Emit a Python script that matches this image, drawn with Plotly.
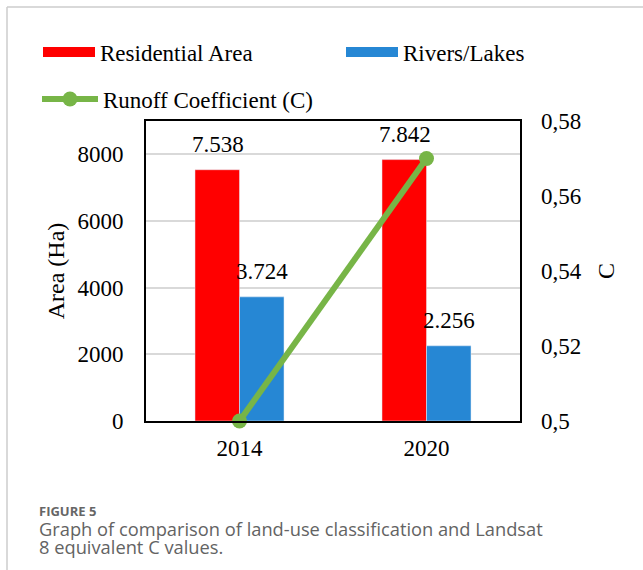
import plotly.graph_objects as go

# ---- data ----
years = ["2014", "2020"]
residential = [7538, 7842]
rivers = [3724, 2256]
runoff_c = [0.50, 0.57]
left_ticks = [0, 2000, 4000, 6000, 8000]
right_ticks = [0.50, 0.52, 0.54, 0.56, 0.58]
right_tick_text = ["0,5", "0,52", "0,54", "0,56", "0,58"]

# ---- layout geometry ----
W, H = 643, 570
ML, MR, MT, MB = 146, 123, 121, 149
PW, PH = W - ML - MR, H - MT - MB


def px2x(px):
    return (px - ML) / PW


def py2y(py):
    return 1 - (py - MT) / PH


SERIF = "Liberation Serif"
RED = "#ff0000"
BLUE = "#2687d4"
GREEN = "#77b547"

fig = go.Figure()

fig.add_trace(go.Bar(x=years, y=residential, marker_color=RED, name="Residential Area",
                     showlegend=False, yaxis="y"))
fig.add_trace(go.Bar(x=years, y=rivers, marker_color=BLUE, name="Rivers/Lakes",
                     showlegend=False, yaxis="y"))
# legend proxies (wide rectangles), no visible data
fig.add_trace(go.Scatter(x=[years[0]], y=[None], mode="lines", line=dict(color=RED, width=11),
                         name="Residential Area", legend="legend", hoverinfo="skip"))
fig.add_trace(go.Scatter(x=[years[0]], y=[None], mode="lines", line=dict(color=BLUE, width=11),
                         name="Rivers/Lakes", legend="legend3", hoverinfo="skip"))
fig.add_trace(go.Scatter(x=years, y=runoff_c, mode="lines+markers", yaxis="y2",
                         line=dict(color=GREEN, width=6), marker=dict(color=GREEN, size=15),
                         name="Runoff Coefficient (C)", legend="legend2", cliponaxis=False))

annotations = []
for i in range(len(years)):
    for val, shift in ((residential[i], -22), (rivers[i], 22)):
        annotations.append(dict(x=i, y=val, xref="x", yref="y", xshift=shift, yshift=25,
                                text=f"{val:,}".replace(",", "."), showarrow=False,
                                yanchor="middle", font=dict(family=SERIF, size=23, color="black")))

annotations.append(dict(x=px2x(38), y=py2y(511), xref="paper", yref="paper", xanchor="left",
                        yanchor="middle", showarrow=False, text="<b>FIGURE 5</b>", borderpad=0,
                        font=dict(family="Open Sans", size=13, color="#666666")))
annotations.append(dict(x=px2x(38), y=py2y(528), xref="paper", yref="paper", xanchor="left",
                        yanchor="middle", showarrow=False, borderpad=0,
                        text="Graph of comparison of land-use classification and Landsat",
                        font=dict(family="Open Sans", size=18.3, color="#636363")))
annotations.append(dict(x=px2x(38), y=py2y(546), xref="paper", yref="paper", xanchor="left",
                        yanchor="middle", showarrow=False, text="8 equivalent C values.",
                        borderpad=0, font=dict(family="Open Sans", size=18.3, color="#636363")))

shapes = [
    dict(type="line", xref="paper", yref="paper", x0=px2x(7), x1=px2x(643), y0=py2y(7), y1=py2y(7),
         line=dict(color="#cccccc", width=1.5)),
    dict(type="line", xref="paper", yref="paper", x0=px2x(7), x1=px2x(7), y0=py2y(7), y1=py2y(570),
         line=dict(color="#cccccc", width=1.5)),
]

legend_font = dict(family=SERIF, size=23, color="black")
fig.update_layout(
    width=W, height=H,
    margin=dict(l=ML, r=MR, t=MT, b=MB, autoexpand=False),
    paper_bgcolor="white", plot_bgcolor="white",
    barmode="group", bargap=0.524, bargroupgap=0,
    font=dict(family=SERIF, color="black"),
    xaxis=dict(type="category", categoryorder="array", categoryarray=years, range=[-0.5, 1.5],
               showline=True, mirror=True, linecolor="black", linewidth=2,
               tickfont=dict(family=SERIF, size=23, color="black"), ticks="",
               ticklabelstandoff=5),
    yaxis=dict(range=[0, 9000], tickvals=left_ticks, showline=True, mirror=True,
               linecolor="black", linewidth=2, showgrid=True, gridcolor="#d9d9d9", gridwidth=2,
               zeroline=False, ticks="", tickfont=dict(family=SERIF, size=23, color="black"),
               ticklabelstandoff=16,
               title=dict(text="Area (Ha)", font=dict(family=SERIF, size=24, color="black"),
                          standoff=6)),
    yaxis2=dict(range=[0.5, 0.58], overlaying="y", side="right", tickvals=right_ticks,
                ticktext=right_tick_text, showgrid=False, zeroline=False, showline=False,
                ticks="", tickfont=dict(family=SERIF, size=23, color="black"),
                ticklabelstandoff=20,
                title=dict(text="C", font=dict(family=SERIF, size=24, color="black"),
                           standoff=16)),
    legend=dict(orientation="h", xref="container", yref="container", x=38 / W, y=1 - 52 / H,
                xanchor="left", yanchor="middle", itemwidth=52, font=legend_font,
                bgcolor="rgba(0,0,0,0)"),
    legend3=dict(orientation="h", xref="container", yref="container", x=341 / W, y=1 - 52 / H,
                 xanchor="left", yanchor="middle", itemwidth=52, font=legend_font,
                 bgcolor="rgba(0,0,0,0)"),
    legend2=dict(orientation="h", xref="container", yref="container", x=37 / W, y=1 - 99 / H,
                 xanchor="left", yanchor="middle", itemwidth=56, font=legend_font,
                 bgcolor="rgba(0,0,0,0)"),
    annotations=annotations,
    shapes=shapes,
)

fig.write_html("out.html")
